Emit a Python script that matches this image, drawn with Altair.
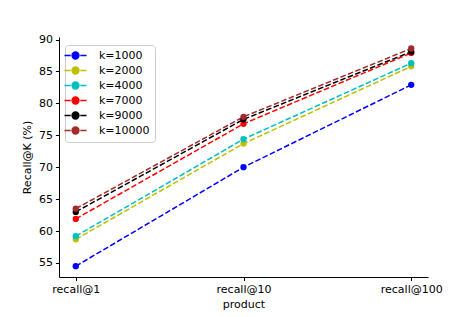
import altair as alt
import pandas as pd

categories = ["recall@1", "recall@10", "recall@100"]
series = ["k=1000", "k=2000", "k=4000", "k=7000", "k=9000", "k=10000"]
colors = ["#0000ff", "#bfbf00", "#00bfbf", "#ff0000", "#000000", "#a52a2a"]
values = {
    "k=1000": [54.5, 70.0, 82.9],
    "k=2000": [58.7, 73.7, 85.8],
    "k=4000": [59.2, 74.4, 86.3],
    "k=7000": [61.9, 76.8, 87.9],
    "k=9000": [63.0, 77.5, 88.1],
    "k=10000": [63.5, 77.9, 88.6],
}
y_ticks = [55, 60, 65, 70, 75, 80, 85, 90]

rows = []
for si, s in enumerate(series):
    for ci, c in enumerate(categories):
        rows.append({"product": c, "value": values[s][ci], "series": s, "order": si})
df = pd.DataFrame(rows)

FONT = "DejaVu Sans"
FS = 11

x = alt.X("product:N", sort=categories, title="product",
          scale=alt.Scale(type="point", padding=0.1),
          axis=alt.Axis(labelAngle=0))
y = alt.Y("value:Q", title="Recall@K (%)",
          scale=alt.Scale(domain=[52.8, 90.4], nice=False, zero=False),
          axis=alt.Axis(values=y_ticks))

symbol_path = ("M-2.75,0L-1.2,0M1.2,0L2.75,0"
               "M-0.85,0A0.85,0.85,0,1,1,0.85,0A0.85,0.85,0,1,1,-0.85,0Z")

legend = alt.Legend(
    title=None, orient="none", legendX=6, legendY=8,
    symbolType=symbol_path, symbolSize=64, symbolStrokeWidth=1.5,
    labelOffset=18, labelFontSize=FS, labelFont=FONT, labelColor="#000",
    padding=5, rowPadding=2, strokeColor="#cccccc", cornerRadius=3,
    fillColor="white",
)
cscale = alt.Scale(domain=series, range=colors)
color = alt.Color("series:N", scale=cscale, legend=legend)

lines = alt.Chart(df).mark_line(strokeWidth=1.5, strokeDash=[5.6, 2.4]).encode(
    x=x, y=y, color=color, detail="series:N"
)
points = alt.Chart(df).mark_point(filled=True, size=40, opacity=1, strokeWidth=1.5).encode(
    x=x, y=y,
    color=color,
    order="order:Q",
)

chart = alt.layer(lines, points).properties(
    width=369, height=240,
    autosize=alt.AutoSizeParams(type="none"),
    padding={"left": 51, "top": 29, "right": 40, "bottom": 40},
).configure_view(stroke=None).configure_axis(
    grid=False, domainColor="#000", tickColor="#000", labelColor="#000",
    titleColor="#000", labelFont=FONT, titleFont=FONT, labelFontSize=FS,
    titleFontSize=FS, titleFontWeight="normal", tickSize=3.6, domainWidth=1,
    tickWidth=1, labelPadding=3,
).configure_axisY(titlePadding=6).configure_axisX(titlePadding=4)

chart.save("out.html", embed_options={"renderer": "svg", "actions": False})
